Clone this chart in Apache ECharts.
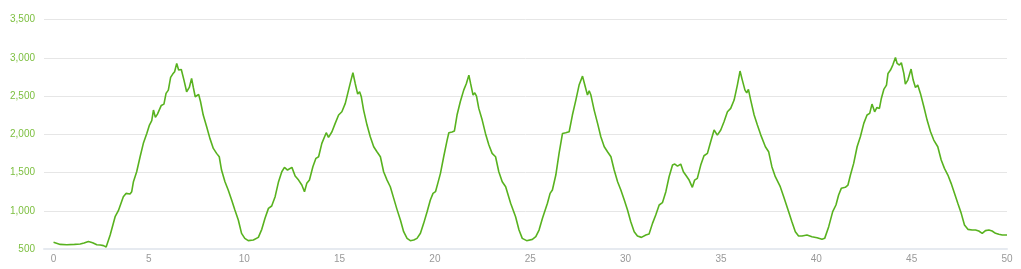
<!DOCTYPE html>
<html>
<head>
<meta charset="utf-8">
<script src="https://cdn.jsdelivr.net/npm/echarts@6/dist/echarts.min.js"></script>
<style>html,body{margin:0;padding:0;background:#fff;}#c{width:1021px;height:269px;}</style>
</head>
<body>
<div id="c"></div>
<script>
var distance = [0,0.35,0.7,1.1,1.4,1.6,1.83,2.05,2.27,2.45,2.62,2.76,2.97,3.23,3.40,3.66,3.80,4.01,4.10,4.19,4.36,4.54,4.71,4.89,5.03,5.15,5.24,5.34,5.45,5.55,5.65,5.79,5.90,6.02,6.14,6.25,6.35,6.46,6.56,6.70,6.84,6.98,7.12,7.24,7.33,7.43,7.50,7.61,7.71,7.85,8.03,8.20,8.38,8.55,8.69,8.81,8.99,9.16,9.34,9.51,9.69,9.86,10.03,10.21,
10.31,10.48,10.74,10.92,11.09,11.27,11.44,11.62,11.80,11.97,12.11,12.27,12.50,12.67,12.85,13.02,13.16,13.28,13.42,13.60,13.76,13.90,14.07,14.30,14.42,14.60,14.77,14.95,15.12,15.30,15.47,15.60,15.70,15.82,15.95,16.05,16.14,16.26,16.44,16.61,16.79,16.96,17.14,17.31,17.49,17.66,17.84,18.01,18.19,18.36,18.54,18.71,18.89,19.06,19.24,19.41,19.59,19.76,19.90,20.03,20.15,20.29,20.46,20.64,20.73,20.90,21.02,21.16,21.33,21.51,21.65,21.78,21.87,22.00,22.09,22.18,22.30,22.48,22.65,22.83,23.00,23.18,23.35,23.53,
23.71,23.97,24.23,24.41,24.58,24.81,25.11,25.29,25.46,25.64,25.90,26.04,26.16,26.34,26.51,26.69,26.86,27.04,27.21,27.39,27.56,27.74,27.86,28.00,28.09,28.18,28.35,28.53,28.70,28.88,29.05,29.23,29.40,29.58,29.75,29.93,30.10,30.27,30.45,30.62,30.83,31.06,31.23,31.41,31.58,31.76,31.93,32.11,32.28,32.46,32.58,32.72,32.89,33.03,33.15,33.33,33.50,33.62,33.76,33.94,34.11,34.29,34.46,34.64,34.81,34.99,35.16,35.34,35.51,35.69,35.86,36.00,36.12,36.26,36.35,36.44,36.56,36.74,36.91,37.09,
37.33,37.50,37.67,37.85,38.11,38.29,38.55,38.72,38.90,39.07,39.25,39.51,39.77,40.04,40.30,40.44,40.65,40.86,41.03,41.17,41.31,41.52,41.66,41.79,41.96,42.14,42.31,42.49,42.66,42.80,42.92,43.06,43.18,43.31,43.41,43.54,43.68,43.76,43.89,44.01,44.15,44.24,44.36,44.46,44.59,44.67,44.80,44.97,45.08,45.20,45.32,45.46,45.64,45.81,45.99,46.16,46.37,46.55,46.72,46.90,47.07,47.25,47.42,47.60,47.77,47.95,48.17,48.35,48.52,48.70,48.87,49.05,49.22,49.40,49.57,49.75,50];
var elevation = [587,560,555,560,566,578,598,582,556,552,544,526,683,922,1001,1184,1227,1219,1249,1380,1510,1706,1881,2011,2120,2177,2316,2220,2264,2251,2377,2394,2534,2577,2743,2786,2817,2926,2839,2847,2708,2556,2612,2730,2612,2490,2468,2521,2425,2251,2098,1946,1815,1750,1706,1532,1380,1271,1140,1010,879,705,639,609,
609,618,652,757,901,1031,1062,1184,1380,1510,1567,1532,1567,1454,1401,1336,1249,1358,1401,1576,1685,1706,1881,2020,1959,2033,2142,2251,2294,2403,2577,2708,2804,2664,2525,2556,2490,2316,2120,1968,1837,1772,1706,1510,1401,1314,1162,1018,879,726,639,609,618,639,705,835,988,1140,1227,1249,1358,1489,1706,1924,2020,2029,2042,2251,2425,2577,2664,2773,2664,2512,2542,2499,2338,2185,2011,1859,1750,1706,1510,1380,
1314,1097,922,748,639,609,626,661,748,901,1097,1227,1271,1467,1750,2011,2020,2033,2251,2447,2643,2760,2643,2512,2569,2512,2316,2142,1968,1837,1772,1706,1532,1380,1271,1140,1010,857,726,670,652,683,696,835,944,1075,1105,1249,1445,1597,1610,1584,1610,1510,1467,1401,1306,1401,1423,1597,1719,1750,1902,2055,1989,2055,2164,2294,2338,2447,2643,2826,2708,2577,2542,2586,2447,2251,2120,1989,
1837,1772,1576,1445,1314,1184,988,857,726,670,670,683,661,648,626,639,792,988,1075,1206,1293,1306,1336,1467,1619,1837,1968,2142,2251,2273,2394,2294,2351,2338,2468,2586,2643,2795,2839,2904,3004,2926,2904,2934,2795,2656,2708,2852,2708,2612,2643,2534,2360,2185,2033,1924,1837,1663,1554,1467,1358,1227,1097,966,814,757,748,748,735,705,740,748,735,705,692,683,683];
var xTicks = [0,5,10,15,20,25,30,35,40,45,50];
var yMin = 500, yMax = 3500, yStep = 500;

var points = distance.map(function (d, i) { return [d, elevation[i]]; });

var chart = echarts.init(document.getElementById('c'), null, {renderer: 'canvas'});
chart.setOption({
  animation: false,
  grid: {left: 44, right: 14, top: 19.5, bottom: 20, containLabel: false},
  xAxis: {
    type: 'value', min: -0.5, max: 50,
    axisLine: {show: true, lineStyle: {color: '#e6eaf0', width: 2}},
    axisTick: {show: false},
    splitLine: {show: false},
    axisLabel: {customValues: xTicks, color: '#999999', fontSize: 10, margin: 5, fontFamily: 'Liberation Sans, Arial, sans-serif'}
  },
  yAxis: {
    type: 'value', min: yMin, max: yMax, interval: yStep,
    axisLine: {show: false}, axisTick: {show: false},
    splitLine: {lineStyle: {color: '#e6e6e6', width: 1}},
    axisLabel: {color: '#7cbf3f', fontSize: 10, margin: 9, fontFamily: 'Liberation Sans, Arial, sans-serif',
      formatter: function (v) { return v.toLocaleString('en-US'); }}
  },
  series: [{
    type: 'line', data: points, showSymbol: false, smooth: false,
    lineStyle: {color: '#58b21f', width: 1.6}
  }]
});
</script>
</body>
</html>
